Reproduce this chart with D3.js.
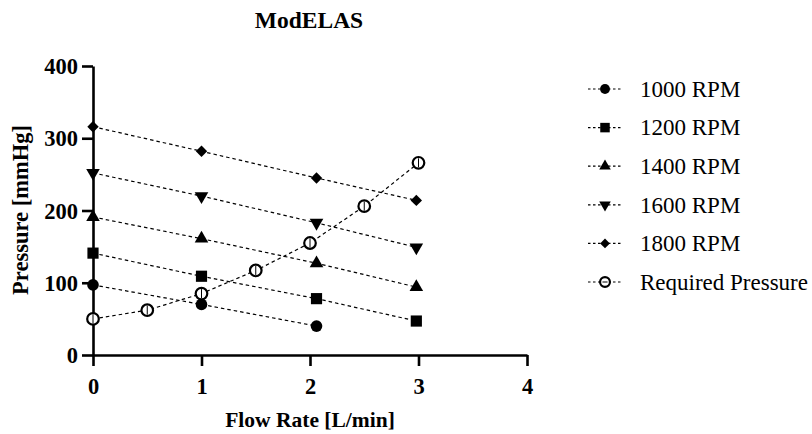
<!DOCTYPE html>
<html>
<head>
<meta charset="utf-8">
<script src="https://cdn.jsdelivr.net/npm/d3@7"></script>
<style>
  body { margin: 0; background: #fff; }
  text { font-family: "Liberation Serif", "Times New Roman", serif; }
</style>
</head>
<body>
<div id="chart"></div>
<script>
// values
const seriesNames = ["1000 RPM", "1200 RPM", "1400 RPM", "1600 RPM", "1800 RPM", "Required Pressure"];
const flow1000 = [0, 1, 2.06];
const press1000 = [97, 70, 40];
const flowRpm = [0, 1, 2.06, 2.98];
const press1200 = [141, 109, 78, 47];
const press1400 = [191, 161, 127, 94];
const press1600 = [252, 220, 183, 149];
const press1800 = [316, 282, 245, 214];
const flowReq = [0, 0.5, 1, 1.5, 2, 2.5, 3];
const pressReq = [50, 62, 85, 117, 155, 206, 266];
const xTicks = [0, 1, 2, 3, 4];
const yTicks = [0, 100, 200, 300, 400];

const series = [
    { name: seriesNames[0], xs: flow1000, ys: press1000, shape: "circle" },
    { name: seriesNames[1], xs: flowRpm, ys: press1200, shape: "square" },
    { name: seriesNames[2], xs: flowRpm, ys: press1400, shape: "up" },
    { name: seriesNames[3], xs: flowRpm, ys: press1600, shape: "down" },
    { name: seriesNames[4], xs: flowRpm, ys: press1800, shape: "diamond" },
    { name: seriesNames[5], xs: flowReq, ys: pressReq, shape: "open" }
];

const W = 812, H = 434;
const svg = d3.select("#chart").append("svg")
    .attr("width", W).attr("height", H);

const x = d3.scaleLinear().domain([0, 4]).range([93, 527]);
const y = d3.scaleLinear().domain([0, 400]).range([355, 66]);

// axes
const xAxis = svg.append("g")
    .attr("transform", `translate(0,${y(0)})`)
    .call(d3.axisBottom(x).tickValues(xTicks).tickFormat(d3.format("d")).tickSize(11).tickSizeOuter(0));
const yAxis = svg.append("g")
    .attr("transform", `translate(${x(0)},0)`)
    .call(d3.axisLeft(y).tickValues(yTicks).tickSize(11).tickSizeOuter(0));

[xAxis, yAxis].forEach(a => {
    a.select(".domain").attr("stroke", "#000").attr("stroke-width", 2.6);
    a.selectAll(".tick line").attr("stroke", "#000").attr("stroke-width", 2.6);
    a.selectAll(".tick text")
        .attr("fill", "#000")
        .style("font-family", "'Liberation Serif', serif")
        .style("font-weight", "bold")
        .style("font-size", "22.5px");
});
xAxis.selectAll(".tick text").attr("y", 39).attr("dy", 0);
yAxis.selectAll(".tick text").attr("x", -15).attr("dy", "0.34em");

// titles
svg.append("text")
    .attr("x", 309).attr("y", 28)
    .attr("text-anchor", "middle")
    .style("font-weight", "bold").style("font-size", "23.5px")
    .text("ModELAS");

svg.append("text")
    .attr("x", 310).attr("y", 427)
    .attr("text-anchor", "middle")
    .style("font-weight", "bold").style("font-size", "21.5px")
    .text("Flow Rate [L/min]");

svg.append("text")
    .attr("transform", "translate(28,210) rotate(-90)")
    .attr("text-anchor", "middle")
    .style("font-weight", "bold").style("font-size", "22.5px")
    .text("Pressure [mmHg]");

// marker drawing
function drawMarker(g, shape, scale, legendMark) {
    const s = scale || 1;
    if (shape === "circle") {
        g.append("circle").attr("r", 5.8 * s).attr("fill", "#000");
    } else if (shape === "square") {
        g.append("path").attr("d", d3.symbol(d3.symbolSquare, 125 * s * s)()).attr("fill", "#000");
    } else if (shape === "up") {
        g.append("path").attr("d", d3.symbol(d3.symbolTriangle, 80 * s * s)()).attr("fill", "#000");
    } else if (shape === "down") {
        g.append("path").attr("d", d3.symbol(d3.symbolTriangle, 80 * s * s)())
            .attr("transform", "rotate(180)").attr("fill", "#000");
    } else if (shape === "diamond") {
        g.append("path").attr("d", d3.symbol(d3.symbolSquare, 65 * s * s)())
            .attr("transform", "rotate(45)").attr("fill", "#000");
    } else {
        g.append("circle").attr("r", 5.8 * s).attr("fill", "#fff")
            .attr("stroke", "#000").attr("stroke-width", 2.2);
        const ln = g.append("line").attr("stroke", "#000").attr("stroke-width", 1);
        if (legendMark) {
            ln.attr("x1", -3 * s).attr("x2", 3 * s).attr("y1", 0).attr("y2", 0);
        } else {
            ln.attr("x1", 0).attr("x2", 0).attr("y1", -4.5 * s).attr("y2", 4.5 * s);
        }
    }
}

const line = d3.line().x(d => x(d[0])).y(d => y(d[1]));

series.forEach(sr => {
    const pts = sr.xs.map((v, i) => [v, sr.ys[i]]);
    svg.append("path")
        .datum(pts)
        .attr("d", line)
        .attr("fill", "none")
        .attr("stroke", "#000")
        .attr("stroke-width", 1.2)
        .attr("stroke-dasharray", "3.5,3");
});

series.forEach(sr => {
    sr.xs.forEach((v, i) => {
        const g = svg.append("g").attr("transform", `translate(${x(v)},${y(sr.ys[i])})`);
        drawMarker(g, sr.shape, 1, false);
    });
});

// legend
const legend = svg.append("g").attr("transform", "translate(588,89)");
series.forEach((sr, i) => {
    const row = legend.append("g").attr("transform", `translate(0,${i * 38.6})`);
    row.append("line")
        .attr("x1", 0).attr("x2", 33)
        .attr("stroke", "#000").attr("stroke-width", 1.2)
        .attr("stroke-dasharray", "2.5,2.5");
    const m = row.append("g").attr("transform", "translate(17,0)");
    drawMarker(m, sr.shape, 0.85, true);
    row.append("text")
        .attr("x", 52).attr("y", 0).attr("dy", "0.34em")
        .style("font-size", "23px")
        .text(sr.name);
});
</script>
</body>
</html>
